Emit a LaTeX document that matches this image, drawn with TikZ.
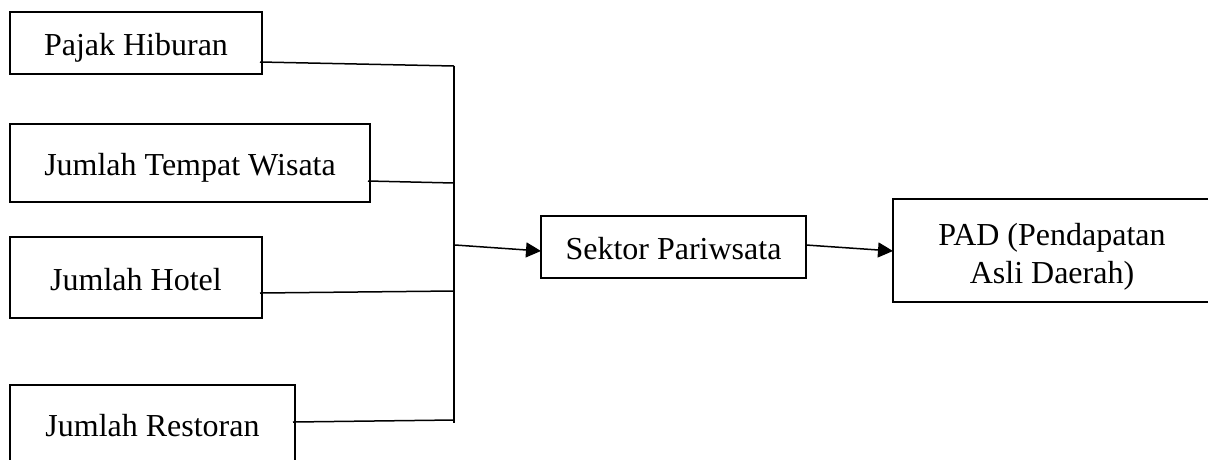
\documentclass[tikz,border=0pt]{standalone}
\usepackage{fontspec}
\setmainfont{Liberation Serif}
\usetikzlibrary{arrows.meta,calc}
\begin{document}
\begin{tikzpicture}[x=1pt,y=-1pt,
  box/.style={draw,line width=2.3pt,rectangle,inner sep=0pt,outer sep=0pt,
    font=\fontsize{32}{38}\selectfont,text height=26pt,text depth=1pt},
  frame/.style={draw,line width=2.3pt,rectangle,inner sep=0pt,outer sep=0pt},
  txt/.style={inner sep=0pt,font=\fontsize{32}{38}\selectfont,align=center},
  link/.style={line width=1.5pt},
  arr/.style={line width=1.5pt,-{Triangle[length=15pt,width=15pt]}}]
\useasboundingbox (0,0) rectangle (1208,459);
\clip (0,0) rectangle (1208,459);
% boxes
\node[box,minimum width=252pt,minimum height=62pt] (pajak) at (136,43) {Pajak Hiburan};
\node[box,minimum width=360pt,minimum height=78pt] (wisata) at (190,163) {Jumlah Tempat Wisata};
\node[box,minimum width=252pt,minimum height=81pt] (hotel) at (136,277.5) {Jumlah Hotel};
\node[box,minimum width=285pt,minimum height=77pt] (restoran) at (152.5,423.5) {Jumlah Restoran};
\node[box,minimum width=265pt,minimum height=62pt] (sektor) at (673.5,247) {Sektor Pariwsata};
\node[frame,minimum width=318pt,minimum height=103pt] (pad) at (1052,250.5) {};
\node[txt] (padtxt) at (1052,257) {PAD (Pendapatan\\Asli Daerah)};
% junction points on the collector line
\coordinate (j1) at (454,66);
\coordinate (j2) at (454,183);
\coordinate (j3) at (454,291);
\coordinate (j4) at (454,420);
\coordinate (jb) at (454,423);
\coordinate (jo) at (455,245);
% connectors
\draw[link] ($(pajak.east)+(-2,19)$) -- (j1);
\draw[link] ($(wisata.east)+(-2,18)$) -- (j2);
\draw[link] ($(hotel.east)+(-2,15.5)$) -- (j3);
\draw[link] ($(restoran.east)+(-2,-1.5)$) -- (j4);
\draw[link] (j1) -- (jb);
\draw[arr] (jo) -- ($(sektor.west)+(0,4)$);
\draw[arr] ($(sektor.east)+(0,-2)$) -- ($(pad.west)+(0,0.5)$);
\end{tikzpicture}
\end{document}
